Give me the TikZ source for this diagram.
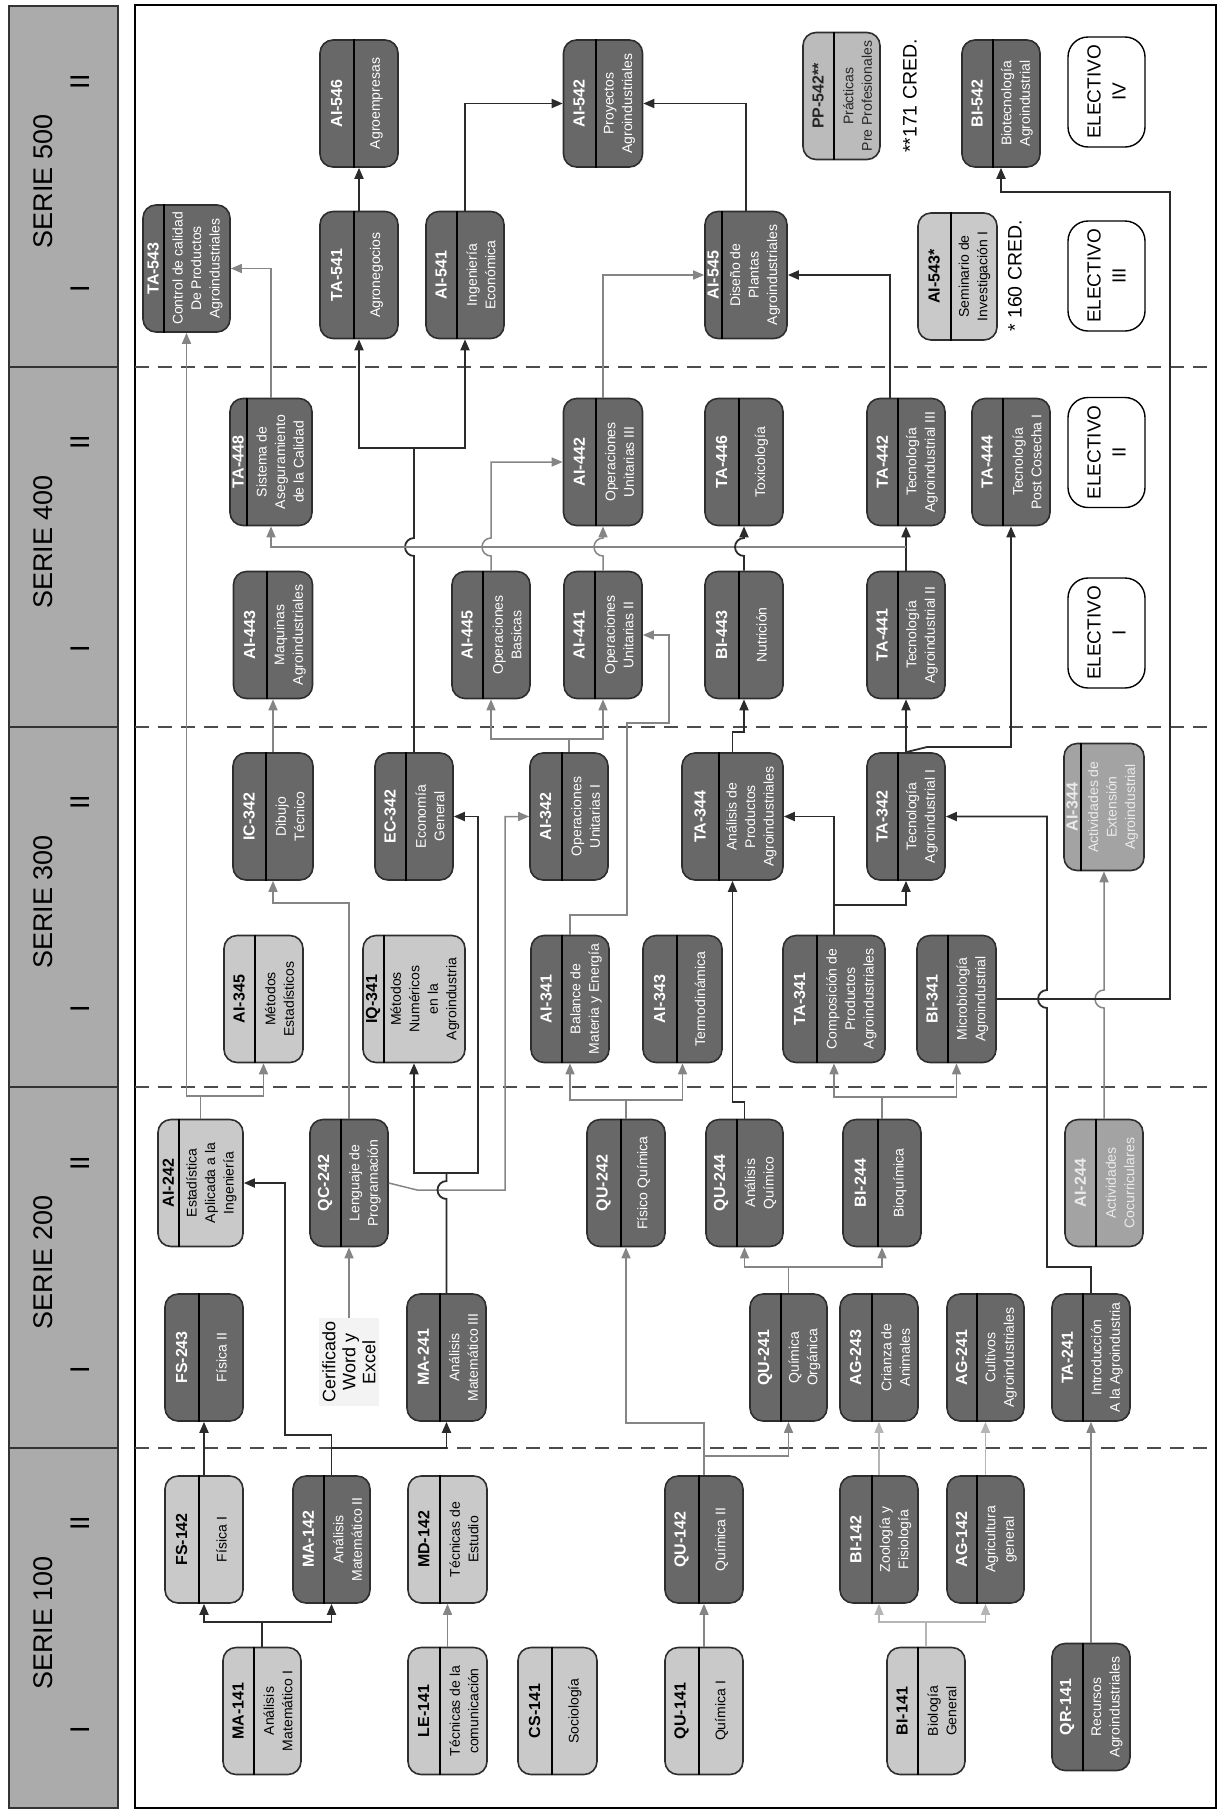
\documentclass[tikz,border=0pt]{standalone}
\usepackage{fontspec}
\setmainfont{Liberation Sans}
\usetikzlibrary{arrows.meta,calc}
\definecolor{cOscuro}{HTML}{686868}
\definecolor{cClaro}{HTML}{C9C9C9}
\definecolor{cMedio}{HTML}{A3A3A3}
\definecolor{cPractica}{HTML}{BBBBBB}
\definecolor{cCabecera}{HTML}{ABABAB}
\definecolor{cBorde}{HTML}{2E2E2E}
\definecolor{cNegro}{HTML}{2B2B2B}
\definecolor{cGris}{HTML}{858585}
\definecolor{cTenue}{HTML}{B5B5B5}
\definecolor{cCert}{HTML}{F3F3F3}
\newcommand{\codfont}{\fontsize{16}{18}\selectfont\bfseries}
\newcommand{\nomfont}{\fontsize{14}{18.5}\selectfont}
\tikzset{
  curso/.style={rectangle,rounded corners=13pt,minimum width=127pt,rotate=90,draw=cBorde,line width=1.6pt,inner sep=0pt},
  codigo/.style={rotate=90,inner sep=0pt,fill=none,draw=none,font=\codfont},
  titulo/.style={rotate=90,inner sep=0pt,fill=none,draw=none,align=center,font=\nomfont},
  oscuro/.style={fill=cOscuro,text=white},
  claro/.style={fill=cClaro,text=black},
  medio/.style={fill=cMedio,text=white!92!black},
  practica/.style={fill=cPractica,text=black!85},
  divisor/.style={draw=black,line width=1.6pt},
  electivo/.style={rectangle,rounded corners=20pt,minimum width=110pt,minimum height=77pt,rotate=90,draw=black,line width=1.4pt,fill=white,align=center,font=\fontsize{19}{25}\selectfont},
  serie/.style={rotate=90,font=\fontsize{27}{30}\selectfont},
  cred/.style={rotate=90,font=\fontsize{19.5}{22}\selectfont},
  separador/.style={draw=black!70,line width=1.4pt,dash pattern=on 14pt off 9pt},
  negro/.style={draw=cNegro,line width=1.8pt},
  gris/.style={draw=cGris,line width=1.5pt},
  tenue/.style={draw=cTenue,line width=1.5pt}
}
% name, x, y, alto, franja, estilo, codigo, nombre
\newcommand{\curso}[8]{%
  \node[curso,#6,minimum height=#4pt] (#1) at (#2,-#3) {};
  \draw[divisor] ($(#1.north west)+(#5,0)$) -- ($(#1.north east)+(#5,0)$);
  \node[#6,codigo] (#1-c) at ($(#1.north)+(#5/2,0)$) {#7};
  \node[#6,titulo] (#1-t) at ($(#1.center)+(#5/2,0)$) {#8};}

\begin{document}
\begin{tikzpicture}[x=1pt,y=1pt,>={Triangle[length=11pt,width=9pt]}]
\useasboundingbox (0,0) rectangle (1223,-1810);
\fill[cCabecera] (9,-6) rectangle (118,-1808);
\foreach \s/\a/\b in {500/6/367,400/367/727,300/727/1087,200/1087/1448,100/1448/1808}{
  \draw[line width=1.5pt,draw=black!80] (9,-\a) rectangle (118,-\b);
  \node[serie] (serie\s) at (43,{-(\a+\b)/2+5}) {SERIE \s};
  \node[serie] (serie\s-i) at (80,{-\b+78}) {I};
  \node[serie] (serie\s-ii) at (80,{-\b+285}) {II};
}
\draw[line width=1.8pt] (135,-5) rectangle (1216,-1808);
\foreach \y in {367,727,1087,1448}\draw[separador] (135,-\y) -- (1216,-\y);

\curso{ma141}{262}{1711}{78}{32}{claro}{MA-141}{Análisis\\Matemático I}
\curso{le141}{447.5}{1711}{79}{33}{claro}{LE-141}{Técnicas de la\\comunicación}
\curso{cs141}{557.5}{1711}{79}{35}{claro}{CS-141}{Sociología}
\curso{qu141}{704}{1711}{78}{35}{claro}{QU-141}{Química I}
\curso{bi141}{926}{1711}{78}{32}{claro}{BI-141}{Biología\\General}
\curso{qr141}{1091}{1707}{78}{32}{oscuro}{QR-141}{Recursos\\Agroindustriales}
\curso{fs142}{204}{1539.5}{78}{35}{claro}{FS-142}{Física I}
\curso{ma142}{331.5}{1539.5}{77}{32}{oscuro}{MA-142}{Análisis\\Matemático II}
\curso{md142}{447.5}{1539.5}{79}{33}{claro}{MD-142}{Técnicas de\\Estudio}
\curso{qu142}{704}{1539.5}{78}{35}{oscuro}{QU-142}{Química II}
\curso{bi142}{879}{1539.5}{78}{33}{oscuro}{BI-142}{Zoología y\\Fisiología}
\curso{ag142}{985.5}{1539.5}{77}{31}{oscuro}{AG-142}{Agricultura\\general}
\curso{fs243}{204}{1357.5}{78}{35}{oscuro}{FS-243}{Física II}
\curso{ma241}{446.5}{1357.5}{79}{34}{oscuro}{MA-241}{Análisis\\Matemático III}
\curso{qu241}{788.5}{1357.5}{77}{32}{oscuro}{QU-241}{Química\\Orgánica}
\curso{ag243}{879}{1357.5}{78}{33}{oscuro}{AG-243}{Crianza de\\Animales}
\curso{ag241}{985.5}{1357.5}{77}{31}{oscuro}{AG-241}{Cultivos\\Agroindustriales}
\curso{ta241}{1091}{1357.5}{78}{32}{oscuro}{TA-241}{Introducción\\A la Agroindustria}
\curso{ai242}{200.5}{1183}{85}{22}{claro}{AI-242}{Estadística\\Aplicada a la\\Ingeniería}
\curso{qc242}{349}{1183}{78}{32}{oscuro}{QC-242}{Lenguaje de\\Programación}
\curso{qu242}{626}{1183}{78}{35}{oscuro}{QU-242}{Físico Química}
\curso{qu244}{744.5}{1183}{77}{32}{oscuro}{QU-244}{Análisis\\Químico}
\curso{bi244}{882}{1183}{78}{36}{oscuro}{BI-244}{Bioquímica}
\curso{ai244}{1104}{1183}{78}{32}{medio}{AI-244}{Actividades\\Cocurriculares}
\curso{ai345}{263.5}{999}{79}{32}{claro}{AI-345}{Métodos\\Estadísticos}
\curso{iq341}{414}{999}{102}{22}{claro}{IQ-341}{Métodos\\Numéricos\\en la\\Agroindustria}
\curso{ai341}{570}{999}{78}{32}{oscuro}{AI-341}{Balance de\\Materia y Energía}
\curso{ai343}{682.5}{999}{79}{35}{oscuro}{AI-343}{Termodinámica}
\curso{ta341}{834}{999}{102}{35}{oscuro}{TA-341}{Composición de\\Productos\\Agroindustriales}
\curso{bi341}{956.5}{999}{79}{32}{oscuro}{BI-341}{Microbiología\\Agroindustrial}
\curso{ic342}{273}{816.5}{80}{34}{oscuro}{IC-342}{Dibujo\\Técnico}
\curso{ec342}{414}{816.5}{78}{32}{oscuro}{EC-342}{Economía\\General}
\curso{ai342}{569}{816.5}{78}{33}{oscuro}{AI-342}{Operaciones\\Unitarias I}
\curso{ta344}{732.5}{816.5}{101}{38}{oscuro}{TA-344}{Análisis de\\Productos\\Agroindustriales}
\curso{ta342}{906}{816.5}{78}{32}{oscuro}{TA-342}{Tecnología\\Agroindustrial I}
\curso{ai344}{1104}{807}{80}{18}{medio}{AI-344}{Actividades de\\Extensión\\Agroindustrial}
\curso{ai443}{273}{635}{79}{34}{oscuro}{AI-443}{Maquinas\\Agroindustriales}
\curso{ai445}{491}{635}{78}{32}{oscuro}{AI-445}{Operaciones\\Basicas}
\curso{ai441}{603}{635}{78}{32}{oscuro}{AI-441}{Operaciones\\Unitarias II}
\curso{bi443}{744}{635}{78}{35}{oscuro}{BI-443}{Nutrición}
\curso{ta441}{906}{635}{78}{32}{oscuro}{TA-441}{Tecnología\\Agroindustrial II}
\curso{ta448}{271}{462}{82}{18}{oscuro}{TA-448}{Sistema de\\Aseguramiento\\de la Calidad}
\curso{ai442}{603}{462}{79}{33}{oscuro}{AI-442}{Operaciones\\Unitarias III}
\curso{ta446}{744}{462}{78}{35}{oscuro}{TA-446}{Toxicología}
\curso{ta442}{906}{462}{78}{32}{oscuro}{TA-442}{Tecnología\\Agroindustrial III}
\curso{ta444}{1011}{462}{78}{32}{oscuro}{TA-444}{Tecnología\\Post Cosecha I}
\curso{ta543}{186.5}{268.5}{87}{22}{oscuro}{TA-543}{Control de calidad\\De Productos\\Agroindustriales}
\curso{ta541}{359}{275}{78}{35}{oscuro}{TA-541}{Agronegocios}
\curso{ai541}{465}{275}{78}{32}{oscuro}{AI-541}{Ingeniería\\Económica}
\curso{ai545}{746}{275}{82}{18}{oscuro}{AI-545}{Diseño de\\Plantas\\Agroindustriales}
\curso{ai543}{957.5}{276.5}{79}{34}{claro}{AI-543*}{Seminario de\\Investigación I}
\curso{ai546}{359}{103.5}{78}{35}{oscuro}{AI-546}{Agroempresas}
\curso{ai542}{603}{103.5}{79}{33}{oscuro}{AI-542}{Proyectos\\Agroindustriales}
\curso{pp542}{841.5}{96}{77}{32}{practica}{PP-542**}{Prácticas\\Pre Profesionales}
\curso{bi542}{1001}{103.5}{78}{32}{oscuro}{BI-542}{Biotecnología\\Agroindustrial}
\foreach \e/\y/\romano in {1/633/I,2/452.5/II,3/276/III,4/92/IV}
  \node[electivo] (elec\e) at (1106.5,-\y) {ELECTIVO\\\romano};
\node[cred] (cred171) at (910,-96) {**171 CRED.};
\node[cred] (cred160) at (1015,-276) {* 160 CRED.};
\node[rotate=90,fill=cCert,align=center,inner sep=3pt,font=\fontsize{18}{20}\selectfont] (cert) at (349,-1362) {Cerificado\\Word y\\Excel};

\coordinate (j1) at (262,-1622);
\draw[negro] (ma141) -- (j1);
\draw[negro,->] (j1) -| (fs142);
\draw[negro,->] (j1) -| (ma142);
\draw[negro,->] (fs142) -- (fs243);
\coordinate (j2) at (331.5,-1448);
\draw[negro] (ma142) -- (j2);
\draw[negro,->] (j2) -| (ma241);
\draw[negro,->] (j2) -- (331.5,-1435) -- (285,-1435) |- (ai242);
\draw[gris,->] (le141) -- (md142);
\draw[gris,->] (qu141) -- (qu142);
\coordinate (j3) at (704,-1456);
\draw[gris] (qu142) -- (j3);
\draw[gris,->] (j3) -| (qu241);
\draw[gris,->] (j3) -- (704,-1423) -| (qu242);
\coordinate (j4) at (926,-1622);
\draw[tenue] (bi141) -- (j4);
\draw[tenue,->] (j4) -| (bi142);
\draw[tenue,->] (j4) -| (ag142);
\draw[tenue,->] (bi142) -- (ag243);
\draw[tenue,->] (ag142) -- (ag241);
\draw[gris,->] (qr141) -- (ta241);

\draw[gris,->] (cert) -- (qc242);
\draw[gris,->] (qc242) -- (349,-903) -| (ic342);
\draw[gris,->] (qc242.south) -- (417,-1190) -- (505,-1190) |- (ai342);
\coordinate (j5) at (446.5,-1173);
\draw[negro] (ma241) -- (446.5,-1199) arc[start angle=270,end angle=90,radius=9] -- (j5);
\draw[negro,->] (j5) -| (iq341);
\draw[negro,->] (j5) -- (478,-1173) |- (ec342);
\coordinate (j6) at (626,-1100);
\draw[gris] (qu242) -- (j6);
\draw[gris,->] (j6) -| (ai341);
\draw[gris,->] (j6) -| (ai343);
\draw[negro,->] (qu244) -- (744.5,-1102) -| (ta344);
\coordinate (j7) at (788.5,-1267);
\draw[gris] (qu241) -- (j7);
\draw[gris,->] (j7) -| (qu244);
\draw[gris,->] (j7) -| (bi244);
\coordinate (j8) at (882,-1097);
\draw[gris] (bi244) -- (j8);
\draw[gris,->] (j8) -| (ta341);
\draw[gris,->] (j8) -| (bi341);
\draw[gris,->] (ai244) -- (1104,-1008) arc[start angle=270,end angle=90,radius=9] -- (ai344);
\draw[negro,->] (ta241) -- (1091,-1267) -- (1047,-1267) -- (1047,-1008) arc[start angle=270,end angle=90,radius=9] -- (1047,-816.5) -- (ta342);

\draw[negro,->] (bi341) -- (1170,-999) -- (1170,-192) -| (bi542);
\coordinate (j9) at (834,-905);
\draw[negro] (ta341) -- (j9);
\draw[negro,->] (j9) -| (ta342);
\draw[negro,->] (j9) |- (ta344);
\draw[negro,->] (ta342) -- (ta441);
\draw[negro,->] (ta342.east) -- (927,-747) -| (ta444);
\draw[negro,->] (ta344) -- (732.5,-732) -| (bi443);
\coordinate (j12) at (569,-739);
\draw[gris] (ai342) -- (j12);
\draw[gris,->] (j12) -| (ai445);
\draw[gris,->] (j12) -| (ai441);
\draw[gris,->] (ai341) -- (570,-915) -- (627,-915) -- (627,-723) -- (669,-723) |- (ai441);
\draw[gris,->] (ic342) -- (ai443);
\coordinate (j11) at (414,-448);
\draw[negro] (ec342) -- (414,-556) arc[start angle=270,end angle=90,radius=9] -- (j11);
\draw[negro,->] (j11) -| (ta541);
\draw[negro,->] (j11) -| (ai541);
\coordinate (j13) at (200.5,-1096);
\draw[gris] (ai242) -- (j13);
\draw[gris,->] (j13) -| (ai345);
\draw[gris,->] (j13) -- (186.5,-1096) -- (ta543);

\draw[negro,->] (ta441) -- (ta442);
\coordinate (j10) at (906,-547);
\draw[gris,->] (j10) -| (ta448);
\draw[gris,->] (ai445) -- (491,-556) arc[start angle=270,end angle=90,radius=9] -- (491,-462) -- (ai442);
\draw[gris,->] (ai441) -- (603,-556) arc[start angle=270,end angle=90,radius=9] -- (ai442);
\draw[negro,->] (bi443) -- (744,-556) arc[start angle=270,end angle=90,radius=9] -- (ta446);
\draw[gris,->] (ta448) |- (ta543);
\draw[gris,->] (ai442) |- (ai545);
\draw[negro,->] ($(ta442.east)+(-16,0)$) |- (ai545);

\draw[negro,->] (ta541) -- (ai546);
\draw[negro,->] (ai541) |- (ai542);
\draw[negro,->] (ai545) |- (ai542);
\end{tikzpicture}
\end{document}
